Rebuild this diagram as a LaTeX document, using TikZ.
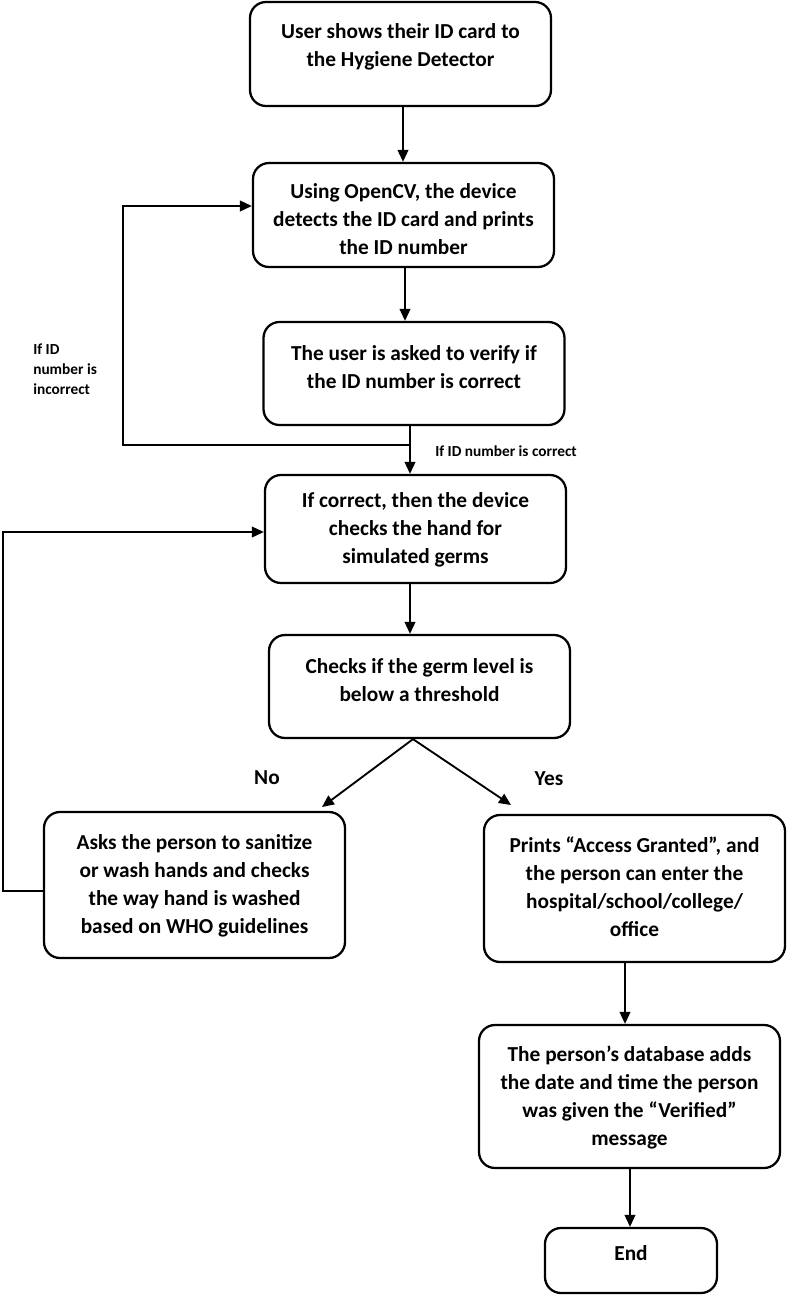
\documentclass[tikz,border=0pt]{standalone}
\usepackage{fontspec}
\setmainfont{Carlito}
\usetikzlibrary{arrows.meta}
\begin{document}
\begin{tikzpicture}[x=0.75pt,y=-0.75pt,
  box/.style={draw=black, line width=1.7pt, rounded corners=12pt, inner sep=0pt, minimum width=225.75pt},
  txt/.style={font=\bfseries\fontsize{16}{21}\selectfont, align=center, inner sep=0pt},
  small/.style={font=\bfseries\fontsize{11.5}{15}\selectfont, align=left, inner sep=0pt},
  lab/.style={font=\bfseries\fontsize{16}{18}\selectfont, inner sep=0pt},
  arr/.style={line width=1.4pt, -{Triangle[length=9pt,width=8pt]}},
  ln/.style={line width=1.4pt}]
\useasboundingbox (0,0) rectangle (787,1297);

% boxes
\node[box, minimum height=78pt] (b1) at (400.5,54) {};
\node[box, minimum height=78pt] (b2) at (403.5,215) {};
\node[box, minimum height=77.25pt] (b3) at (414,373.5) {};
\node[box, minimum height=81pt] (b4) at (415.5,529) {};
\node[box, minimum height=77.25pt] (b5) at (419.5,686.5) {};
\node[box, minimum height=109.5pt] (b6) at (194.5,885) {};
\node[box, minimum height=110.25pt] (b7) at (634.5,888.5) {};
\node[box, minimum height=107.25pt] (b8) at (629.5,1096.5) {};
\node[box, minimum height=48.75pt, minimum width=129pt] (b9) at (631,1260.5) {};

% texts
\node[txt] (t1) at (400.5,47) {User shows their ID card to\\the Hygiene Detector};
\node[txt] (t2) at (403.5,219) {Using OpenCV, the device\\detects the ID card and prints\\the ID number};
\node[txt] (t3) at (414,367) {The user is asked to verify if\\the ID number is correct};
\node[txt] (t4) at (415.5,530) {If correct, then the device\\checks the hand for\\simulated germs};
\node[txt] (t5) at (419.5,680.5) {Checks if the germ level is\\below a threshold};
\node[txt] (t6) at (194.5,885.5) {Asks the person to sanitize\\or wash hands and checks\\the way hand is washed\\based on WHO guidelines};
\node[txt] (t7) at (634.5,887) {Prints “Access Granted”, and\\the person can enter the\\hospital/school/college/\\office};
\node[txt] (t8) at (629.5,1097.5) {The person’s database adds\\the date and time the person\\was given the “Verified”\\message};
\node[txt] (t9) at (631,1253) {End};

% labels
\node[small, anchor=west] (l1) at (33,369) {If ID\\number is\\incorrect};
\node[small, anchor=west] (l2) at (435,451) {If ID number is correct};
\node[lab] (lno) at (267,778) {No};
\node[lab] (lyes) at (549,779) {Yes};

% coordinates
\coordinate (j1) at (410,445);
\coordinate (c1) at (123,445);
\coordinate (c2) at (3,891);
\coordinate (n6) at (322,807);
\coordinate (n7) at (511,805);

% connectors
\draw[arr] (b1.south -| 403,0) -- (b2.north -| 403,0);
\draw[arr] (b2.south -| 405,0) -- (b3.north -| 405,0);
\draw[ln] (b3.south -| j1) -- (j1);
\draw[arr] (j1) -- (b4.north -| j1);
\draw[arr] (j1) -- (c1) |- ([yshift=6.75pt]b2.west);
\draw[arr] (b4.south -| 410,0) -- (b5.north -| 410,0);
\draw[arr] (b5.south -| 413,0) -- (n6);
\draw[arr] (b5.south -| 413,0) -- (n7);
\draw[arr] (b6.west |- c2) -- (c2) |- ([yshift=-2.25pt]b4.west);
\draw[arr] (b7.south -| 625,0) -- (b8.north -| 625,0);
\draw[arr] (b8.south -| 630,0) -- (b9.north -| 630,0);
\end{tikzpicture}
\end{document}
